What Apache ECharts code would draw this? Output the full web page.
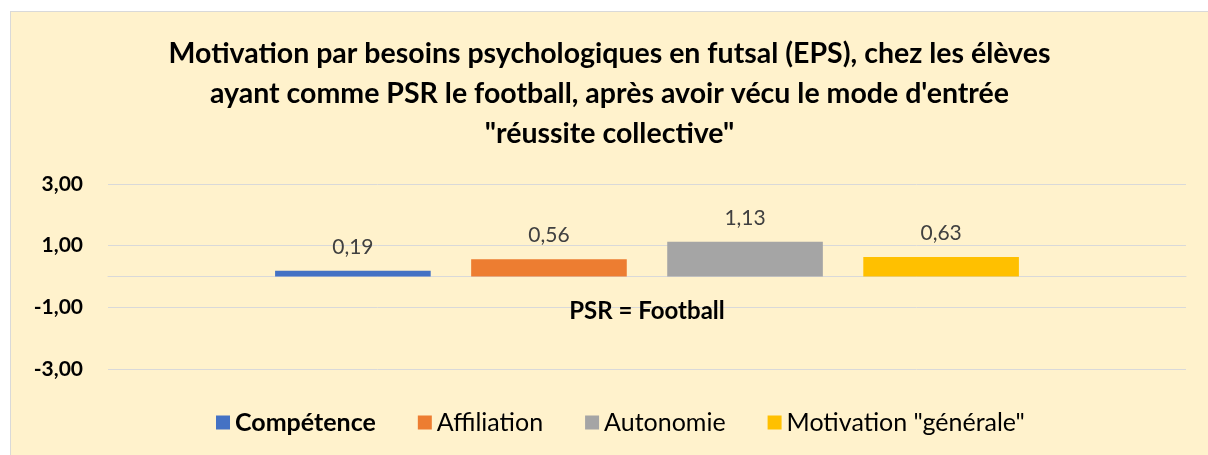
<!DOCTYPE html>
<html>
<head>
<meta charset="utf-8">
<script src="https://cdn.jsdelivr.net/npm/echarts@6/dist/echarts.min.js"></script>
<style>
  body { margin: 0; background: #fff; }
  #chart {
    position: absolute; left: 10px; top: 11px;
    width: 1198px; height: 444px;
    background: #fff2cc;
    border-left: 1px solid #d9d9d9;
    border-top: 1px solid #d9d9d9;
    box-sizing: border-box;
  }
</style>
</head>
<body>
<div id="chart"></div>
<script>
// data
const categories = ["PSR = Football"];
const seriesNames = ["Compétence", "Affiliation", "Autonomie", "Motivation \"générale\""];
const competence = [0.19];
const affiliation = [0.56];
const autonomie = [1.13];
const motivation = [0.63];
const colors = ["#4472c4", "#ed7d31", "#a5a5a5", "#ffc000"];

const font = "Lato, 'Open Sans', sans-serif";
const fmt = (v) => v.toFixed(2).replace(".", ",");

const chart = echarts.init(document.getElementById("chart"));

function mkSeries(name, data, i) {
  return {
    name: name,
    type: "bar",
    data: data,
    barGap: "26%",
    barCategoryGap: "31%",
    itemStyle: { color: colors[i] },
    label: {
      show: true,
      position: "top",
      distance: 13,
      color: "#404040",
      fontFamily: font,
      fontSize: 21,
      formatter: (p) => fmt(p.value),
    },
  };
}

chart.setOption({
  textStyle: { fontFamily: font },
  title: {
    text: "Motivation par besoins psychologiques en futsal (EPS), chez les élèves\nayant comme PSR le football, après avoir vécu le mode d'entrée\n\"réussite collective\"",
    left: "center",
    top: 17,
    textStyle: {
      fontFamily: font,
      fontSize: 28.5,
      fontWeight: "bold",
      color: "#000",
      lineHeight: 40,
    },
  },
  grid: { left: 97, right: 22, top: 172, bottom: 86 },
  legend: {
    top: 393,
    left: 200,
    itemWidth: 14,
    itemHeight: 14,
    itemGap: 42,
    icon: "rect",
    textStyle: { fontFamily: font, fontSize: 25, color: "#000" },
    data: [
      { name: seriesNames[0], textStyle: { fontWeight: "bold" } },
      { name: seriesNames[1] },
      { name: seriesNames[2] },
      { name: seriesNames[3] },
    ],
  },
  xAxis: {
    type: "category",
    data: categories,
    axisLine: { show: true, onZero: true, lineStyle: { color: "#d9d9d9", width: 1 } },
    axisTick: { show: false },
    axisLabel: {
      margin: -70,
      color: "#000",
      fontWeight: "bold",
      fontSize: 24,
      fontFamily: font,
    },
  },
  yAxis: {
    type: "value",
    min: -3,
    max: 3,
    interval: 2,
    axisLine: { show: false },
    axisTick: { show: false },
    splitLine: { lineStyle: { color: "#d9d9d9", width: 1 } },
    axisLabel: {
      margin: 25,
      color: "#000",
      fontWeight: "bold",
      fontSize: 21,
      fontFamily: font,
      formatter: (v) => fmt(v),
    },
  },
  series: [
    mkSeries(seriesNames[0], competence, 0),
    mkSeries(seriesNames[1], affiliation, 1),
    mkSeries(seriesNames[2], autonomie, 2),
    mkSeries(seriesNames[3], motivation, 3),
  ],
});
</script>
</body>
</html>
